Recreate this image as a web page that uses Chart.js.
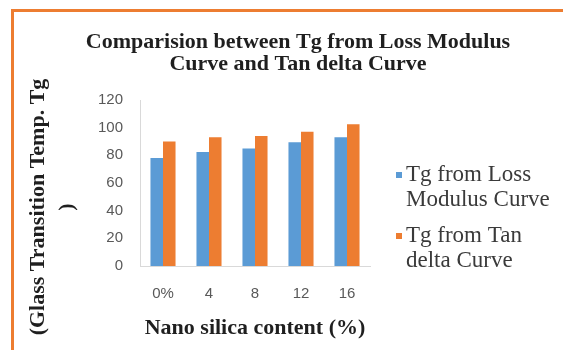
<!DOCTYPE html>
<html>
<head>
<meta charset="utf-8">
<script src="https://cdn.jsdelivr.net/npm/chart.js@4/dist/chart.umd.min.js"></script>
<style>
  html, body { margin: 0; padding: 0; background: #fff; }
  #wrap { width: 563px; height: 350px; position: relative; }
</style>
</head>
<body>
<div id="wrap"><canvas id="c" width="563" height="350"></canvas></div>
<script>
// Glass transition temperature (Tg) by nano silica content
const categories = ['0%', '4', '8', '12', '16'];
const tgLossModulus = [78, 82.5, 85, 89.5, 93];
const tgTanDelta = [90, 93, 94, 97, 102.5];
const yTicks = [0, 20, 40, 60, 80, 100, 120];

const seriesNames = [['Tg from Loss', 'Modulus Curve'], ['Tg from Tan', 'delta Curve']];
const titleLines = ['Comparision between Tg from Loss Modulus', 'Curve and Tan delta Curve'];
const yTitleLines = ['(Glass Transition Temp. Tg', ')'];
const xTitle = 'Nano silica content (%)';

const BLUE = '#5B9BD5';
const ORANGE = '#ED7D31';
const SERIF = '"Liberation Serif", "Times New Roman", serif';
const SANS = '"Liberation Sans", Arial, sans-serif';

// Frame, heading, rotated axis title and legend drawn around the plot
const decorations = {
  id: 'decorations',
  beforeDraw(chart) {
    const ctx = chart.ctx;
    ctx.save();
    ctx.fillStyle = '#ffffff';
    ctx.fillRect(0, 0, chart.width, chart.height);
    ctx.fillStyle = ORANGE;
    ctx.fillRect(11, 9, chart.width - 11, 3);
    ctx.fillRect(11, 9, 3, chart.height - 9);
    ctx.restore();
  },
  afterDraw(chart) {
    const ctx = chart.ctx;
    ctx.save();
    ctx.fillStyle = '#1f1f1f';
    ctx.textAlign = 'center';
    ctx.textBaseline = 'middle';
    ctx.font = 'bold 22px ' + SERIF;
    ctx.fillText(titleLines[0], 298, 42);
    ctx.fillText(titleLines[1], 298, 64);

    // vertical axis title
    ctx.save();
    ctx.translate(38, 207);
    ctx.rotate(-Math.PI / 2);
    ctx.fillText(yTitleLines[0], 0, 0);
    ctx.fillText(yTitleLines[1], 0, 29);
    ctx.restore();

    // legend
    const colors = [BLUE, ORANGE];
    const firstBaseline = [181, 242];
    ctx.font = '23px ' + SERIF;
    ctx.textAlign = 'left';
    ctx.textBaseline = 'alphabetic';
    seriesNames.forEach((lines, i) => {
      const b = firstBaseline[i];
      ctx.fillStyle = colors[i];
      ctx.fillRect(396, b - 9, 6, 6);
      ctx.fillStyle = '#3a3a3a';
      lines.forEach((t, j) => ctx.fillText(t, 406, b + j * 25));
    });
    ctx.restore();
  }
};

new Chart(document.getElementById('c'), {
  type: 'bar',
  data: {
    labels: categories,
    datasets: [
      { label: seriesNames[0].join(' '), data: tgLossModulus, backgroundColor: BLUE },
      { label: seriesNames[1].join(' '), data: tgTanDelta, backgroundColor: ORANGE }
    ]
  },
  options: {
    responsive: false,
    animation: false,
    devicePixelRatio: 1,
    layout: { padding: { top: 100, right: 193, left: 0, bottom: 0 } },
    datasets: { bar: { barPercentage: 1, categoryPercentage: 0.545 } },
    plugins: { legend: { display: false }, title: { display: false }, tooltip: { enabled: false } },
    scales: {
      x: {
        grid: { display: false, drawTicks: false },
        border: { display: true, color: '#D9D9D9', width: 1 },
        ticks: { color: '#595959', font: { family: SANS, size: 15 }, padding: 19 },
        title: { display: true, text: xTitle, color: '#1f1f1f', font: { family: SERIF, size: 22, weight: 'bold' }, padding: { top: 0, bottom: 8 } },
        afterFit(scale) { scale.height = 84; }
      },
      y: {
        min: 0,
        max: 120,
        afterBuildTicks(scale) { scale.ticks = yTicks.map(v => ({ value: v })); },
        grid: { display: false, drawTicks: false },
        border: { display: true, color: '#D9D9D9', width: 1 },
        ticks: { color: '#595959', font: { family: SANS, size: 15 }, padding: 17 },
        afterFit(scale) { scale.width = 140; }
      }
    }
  },
  plugins: [decorations]
});
</script>
</body>
</html>
